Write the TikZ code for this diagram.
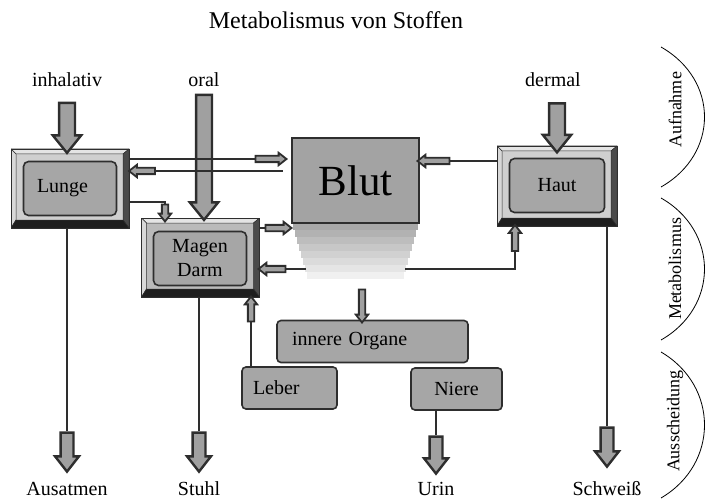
\documentclass[tikz,border=0pt]{standalone}
\usepackage{fontspec}
\setmainfont{Liberation Serif}
\usetikzlibrary{shapes.arrows,calc}
\definecolor{edge}{HTML}{2E2E2E}
\definecolor{boxfill}{HTML}{A6A6A6}
\definecolor{arrowfill}{HTML}{A0A0A0}
\definecolor{bvtop}{HTML}{E4E4E4}
\definecolor{bvleft}{HTML}{D8D8D8}
\definecolor{bvright}{HTML}{4A4A4A}
\definecolor{bvbottom}{HTML}{1E1E1E}
\definecolor{facelight}{HTML}{CFCFCF}
\definecolor{facedark}{HTML}{BABABA}
\definecolor{blutfill}{HTML}{A3A3A3}
\newcommand{\myfs}[1]{\fontsize{#1}{24}\selectfont}
\begin{document}
\begin{tikzpicture}[x=1pt,y=-1pt,
  bevel/.style={minimum width=118pt, minimum height=79pt, inner sep=0pt,
    draw=edge, line width=0.6pt, fill=#1,
    path picture={
      \path (path picture bounding box.north west) coordinate (pA)
            (path picture bounding box.north east) coordinate (pB)
            (path picture bounding box.south east) coordinate (pC)
            (path picture bounding box.south west) coordinate (pD);
      \path ([shift={(5pt,-5pt)}]pA) coordinate (qA)
            ([shift={(-6pt,-5pt)}]pB) coordinate (qB)
            ([shift={(-6pt,8pt)}]pC) coordinate (qC)
            ([shift={(5pt,8pt)}]pD) coordinate (qD);
      \filldraw[fill=bvtop, draw=edge, line width=0.5pt] (pA) -- (pB) -- (qB) -- (qA) -- cycle;
      \filldraw[fill=bvleft, draw=edge, line width=0.5pt] (pA) -- (qA) -- (qD) -- (pD) -- cycle;
      \filldraw[fill=bvright, draw=edge, line width=0.5pt] (pB) -- (pC) -- (qC) -- (qB) -- cycle;
      \filldraw[fill=bvbottom, draw=edge, line width=0.5pt] (pD) -- (qD) -- (qC) -- (pC) -- cycle;
    }},
  innerbox/.style={draw=edge, line width=1.6pt, fill=boxfill, rounded corners=5pt,
    minimum width=93pt, minimum height=54pt, inner sep=2pt, font=\myfs{20}, align=center},
  organ/.style={draw=edge, line width=1.6pt, fill=boxfill, rounded corners=4pt,
    minimum height=42pt, inner ysep=0pt, font=\myfs{20}},
  bigarrow/.style={single arrow, draw=edge, fill=arrowfill, line width=2.4pt,
    inner xsep=0pt, inner ysep=6.75pt, minimum width=26pt,
    single arrow head extend=6.25pt, single arrow tip angle=78, minimum height=#1},
  midarrow/.style={single arrow, draw=edge, fill=arrowfill, line width=2.4pt,
    inner xsep=0pt, inner ysep=5.25pt, minimum width=21.5pt,
    single arrow head extend=5.5pt, single arrow tip angle=76, minimum height=#1},
  smallarrow/.style={single arrow, draw=edge, fill=arrowfill, line width=1.8pt,
    inner xsep=0pt, inner ysep=2.25pt, minimum width=10.5pt,
    single arrow head extend=3pt, single arrow tip angle=76, minimum height=#1},
  conn/.style={draw=edge, line width=1.5pt},
  lbl/.style={font=\myfs{20}, inner sep=0pt},
  side/.style={font=\myfs{18}, inner sep=0pt, rotate=90},
  arc/.style={draw=black, line width=0.8pt}
]
\useasboundingbox (0,0) rectangle (707,500);

% title
\node[font=\myfs{24}, inner sep=0pt] (title) at (336,20) {Metabolismus von Stoffen};

% input labels
\node[lbl] (inh) at (67,80) {inhalativ};
\node[lbl] (oral) at (204,80) {oral};
\node[lbl] (derm) at (553,80) {dermal};

% fade under Blut
\foreach \i in {0,...,7}{
  \pgfmathtruncatemacro{\g}{34-4*\i}
  \fill[black!\g] ({293+2*\i},{223+7*\i}) rectangle ({418-2*\i},{230+7*\i});
}
\coordinate (fadeL) at (306,269);
\coordinate (fadeR) at (405,269);

% boxes
\node[draw=edge, line width=1.5pt, fill=blutfill, minimum width=127pt, minimum height=85pt,
      font=\myfs{43}, inner sep=0pt] (blut) at (355.5,180.5) {Blut};

\node[bevel=facelight] (lungeF) at (70,188.5) {};
\node[innerbox, text width=66pt, align=left] (lunge) at (70,188.5) {Lunge};

\node[bevel=facedark] (magenF) at (200.5,257.5) {};
\node[innerbox] (magen) at (200,258.5) {Magen\\Darm};

\node[bevel=facelight, minimum width=120pt, minimum height=80pt] (hautF) at (557,186) {};
\node[innerbox, minimum width=95pt] (haut) at (557,185.5) {Haut};

\node[organ, minimum width=191pt, text width=161pt, inner xsep=15pt, align=left] (organe) at (372.5,341.5) {innere Organe};
\node[organ, minimum width=95pt, text width=73pt, inner xsep=11pt, align=left] (leber) at (289.5,388) {Leber};
\node[organ, minimum width=91pt] (niere) at (456.5,389) {Niere};

% big input arrows
\node[bigarrow=50pt, rotate=-90] (inA) at (67,123) {};
\node[bigarrow=125pt, rotate=-90] (orA) at (204,152.5) {};
\node[bigarrow=49pt, rotate=-90] (deA) at (557,123) {};

% small arrows
\node[smallarrow=31pt] (a1) at (269,159) {};
\node[smallarrow=26pt, rotate=180] (a2) at (144,171) {};
\node[smallarrow=17pt, rotate=-90] (a3) at (165,211) {};
\node[smallarrow=26pt] (a4) at (276.5,228) {};
\node[smallarrow=27pt, rotate=180] (a5) at (274,269) {};
\node[smallarrow=26pt, rotate=90] (a6) at (515,240) {};
\node[smallarrow=32pt, rotate=180] (a7) at (435.5,161) {};
\node[smallarrow=33pt, rotate=-90] (a8) at (362,304) {};
\node[smallarrow=25pt, rotate=90] (a9) at (251,311) {};

% output arrows
\node[midarrow=39pt, rotate=-90] (ausA) at (67,448) {};
\node[midarrow=39pt, rotate=-90] (stuA) at (199,448) {};
\node[midarrow=37pt, rotate=-90] (urA) at (436,451) {};
\node[midarrow=39pt, rotate=-90] (schA) at (607,443) {};

% connectors
\draw[conn] (a1.tail) -- (a1.tail -| lungeF.east);
\draw[conn] (a2.tail) -- ([xshift=-8pt]a2.tail -| blut.west);
\draw[conn] ([yshift=-13.5pt]lungeF.east) -| (a3.tail);
\draw[conn] (a4.tail) -- (a4.tail -| magenF.east);
\draw[conn] (a5.tail) -- (fadeL);
\draw[conn] (fadeR) -| (a6.tail);
\draw[conn] (a7.tail) -- (a7.tail -| hautF.west);
\draw[conn] (a9.tail |- leber.north) -- (a9.tail);
\draw[conn] (urA.tail |- niere.south) -- (urA.tail);
\draw[conn] (ausA.tail |- lungeF.south) -- (ausA.tail);
\draw[conn] (stuA.tail |- magenF.south) -- (stuA.tail);
\draw[conn] (schA.tail |- hautF.south) -- (schA.tail);

% output labels
\node[lbl] (aus) at (67,489) {Ausatmen};
\node[lbl] (stuhl) at (199,489) {Stuhl};
\node[lbl] (urin) at (436,489) {Urin};
\node[lbl] (schw) at (607,489) {Schweiß};

% side phases
\draw[arc] (661,47) .. controls (719,80) and (719,154) .. (661,187);
\draw[arc] (661,198) .. controls (719,231) and (719,307) .. (661,340);
\draw[arc] (661,352) .. controls (719,386) and (719,464) .. (661,498);
\node[side] (auf) at (675,110) {Aufnahme};
\node[side] (met) at (675,269) {Metabolismus};
\node[side] (auss) at (675,421) {Ausscheidung};
\end{tikzpicture}
\end{document}
